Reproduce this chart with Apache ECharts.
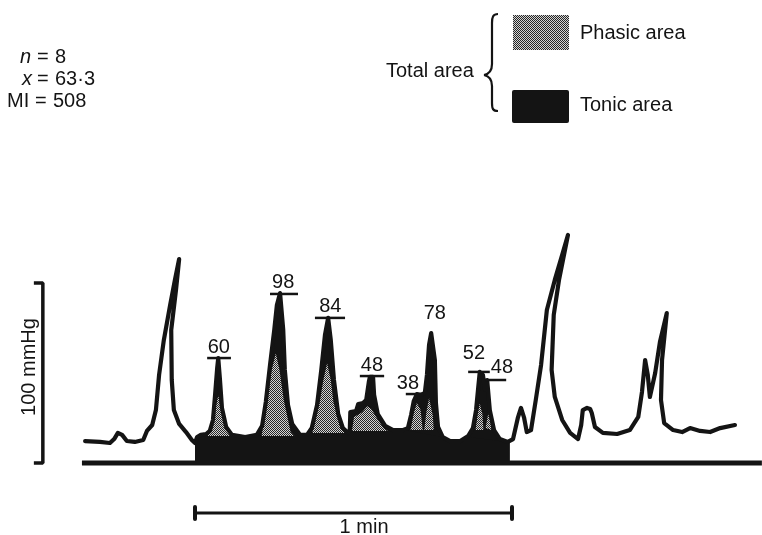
<!DOCTYPE html>
<html><head><meta charset="utf-8">
<script src="https://cdn.jsdelivr.net/npm/echarts@6/dist/echarts.min.js"></script>
<style>html,body{margin:0;padding:0;background:#fff}#c{width:762px;height:535px}</style>
</head><body><div id="c"></div>
<script>
// time in s (0 = start of the analysed 1-min window), pressure in mmHg above baseline
const traceBefore = [[-20.8,12.2],[-18.0,11.7],[-16.1,11.1],[-15.3,13.3],[-14.6,16.7],[-13.8,15.6],[-12.9,12.2],[-11.4,11.7],[-9.8,12.8],[-9.1,17.8],[-8.1,21.1],[-7.4,29.4],[-6.8,48.9],[-5.9,68.3],[-4.7,87.8],[-3.8,101.7],[-3.0,113.3],[-3.6,96.1],[-4.5,73.9],[-4.4,46.1],[-4.0,29.4],[-3.0,21.7],[-1.7,17.2],[-0.6,12.8]];
const traceWindow = [[0,11.1],[0.4,14.4],[1.1,15.6],[2.1,16.1],[2.8,17.8],[3.4,23.9],[3.8,37.8],[4.2,52.8],[4.4,58.3],[4.7,47.2],[5.1,30.6],[5.9,20.0],[7.0,15.6],[9.5,14.4],[11.7,15.6],[12.7,20.6],[13.4,33.9],[14.2,54.4],[15.0,73.9],[15.5,87.8],[16.1,94.4],[16.7,73.9],[17.0,51.7],[17.6,32.2],[18.4,21.7],[19.9,15.6],[21.2,15.6],[22.1,19.4],[23.1,32.2],[23.9,51.7],[24.6,71.1],[25.2,80.6],[25.7,68.3],[26.3,46.1],[27.1,27.2],[28.0,19.4],[29.0,16.7],[29.3,18.3],[29.4,28.3],[30.5,28.9],[30.9,32.8],[31.8,33.3],[32.4,35.0],[32.9,45.0],[33.1,47.8],[33.7,47.8],[33.9,37.8],[34.6,27.2],[36.0,20.6],[37.5,18.3],[39.4,18.3],[40.3,19.4],[40.9,26.7],[41.4,34.4],[42.0,38.3],[42.8,37.8],[43.5,38.9],[43.9,48.9],[44.3,65.6],[44.7,72.2],[45.0,72.2],[45.4,57.2],[45.6,33.3],[46.0,20.0],[46.9,14.4],[48.3,12.2],[50.2,12.2],[51.7,15.0],[52.6,19.4],[53.2,29.4],[53.6,41.7],[53.9,50.6],[54.5,48.9],[54.9,40.6],[55.3,46.1],[55.6,46.1],[55.8,29.4],[56.6,18.3],[57.7,13.3],[59.2,11.7]];
const traceAfter = [[60.2,13.3],[61.1,25.0],[61.7,30.6],[62.3,25.0],[62.8,17.2],[63.6,18.3],[64.5,35.0],[65.5,54.4],[66.6,85.0],[68.1,101.7],[69.5,115.6],[70.6,126.7],[68.9,101.7],[67.9,82.2],[67.5,51.7],[68.1,36.7],[69.5,23.9],[71.0,16.7],[72.5,13.3],[73.1,21.1],[73.4,29.4],[74.2,30.6],[74.8,30.0],[75.1,27.8],[75.7,20.0],[77.2,16.7],[79.9,16.1],[82.3,18.3],[83.9,25.6],[84.6,39.4],[85.2,57.2],[85.7,48.9],[86.1,36.7],[87.1,50.0],[88.0,67.2],[89.3,83.3],[88.4,57.2],[88.2,35.0],[88.8,22.2],[90.5,18.3],[92.2,17.2],[93.7,19.4],[95.6,17.8],[97.5,17.2],[99.4,19.4],[102.2,21.1]];
const tonicTop = [[0,12.8],[0.9,15.0],[2.8,16.1],[7.0,15.0],[9.5,14.4],[11.9,15.6],[19.9,15.0],[21.8,16.7],[29.0,16.7],[37.5,18.3],[39.7,18.3],[46.7,14.4],[49.2,12.2],[51.7,14.4],[57.7,12.2],[59.6,11.1]];
const phasic60 = [[2.4,15.0],[3.1,19.4],[3.7,28.3],[4.4,37.5],[5.0,28.3],[5.8,20.6],[6.9,15.0]];
const phasic98 = [[12.6,15.0],[13.7,35.0],[14.5,51.5],[15.3,61.0],[16.0,51.5],[16.8,35.0],[18.1,17.2],[18.8,15.0]];
const phasic84 = [[22.2,16.7],[23.6,33.9],[24.3,46.1],[25.0,55.5],[25.7,46.1],[26.2,33.9],[27.5,19.4],[28.3,16.7]];
const phasic48a = [[29.7,17.8],[30.1,25.6],[31.6,28.0],[32.6,31.5],[33.4,30.0],[34.4,25.0],[35.7,19.4],[36.5,17.8]];
const phasic38 = [[40.8,18.3],[41.4,27.8],[42.0,33.3],[42.7,29.4],[43.1,18.3]];
const phasic78 = [[43.4,18.3],[43.8,28.3],[44.3,36.0],[45.0,26.7],[45.2,18.3]];
const phasic52 = [[53.1,18.3],[53.5,27.2],[53.9,33.0],[54.4,27.2],[54.6,18.3]];
const phasic48b = [[55.0,19.4],[55.5,27.5],[55.9,22.8],[56.1,18.3]];
const peakBars = [[2.3,6.8,58.3],[14.2,19.5,93.9],[22.7,28.4,80.6],[31.2,35.8,48.3],[39.9,43.3,38.3],[51.7,55.8,50.6],[54.9,58.9,46.1]];
const peakLabels = [[4.5,63.9,'60'],[16.7,100,'98'],[25.6,86.7,'84'],[33.5,54.4,'48'],[40.3,44.4,'38'],[45.4,82.8,'78'],[52.8,61.1,'52'],[58.1,53.3,'48']];
const baseline = [[-21.4,0],[107.3,0]];
const pressureScale = [[-30.5,100],[-28.8,100],[-28.8,0],[-30.5,0]];
const timeScale = [[0,60,-27.8]];
const scaleLabels = [[32.0,-36.1,'1 min'],[-31.4,53.3,'100 mmHg']];
const statNames = ['n','x','MI'];
const statValues = ['8','63·3','508'];
const legendItems = ['Phasic area','Tonic area'];
const legendGroup = 'Total area';

const INK = '#141414';
const FONT = '20px "Liberation Sans", Arial, Helvetica, sans-serif';
function makePattern(){
  const c = document.createElement('canvas'); c.width = 4; c.height = 4;
  const g = c.getContext('2d'); g.fillStyle = '#d4d4d4'; g.fillRect(0,0,4,4);
  g.fillStyle = '#262626';
  for (let y=0;y<4;y++) for (let x=0;x<4;x++) if ((x+y)%2===0) g.fillRect(x,y,1,1);
  return c;
}
const hatch = {image: makePattern(), repeat: 'repeat'};
const phasicAreas = [phasic60, phasic98, phasic84, phasic48a, phasic38, phasic78, phasic52, phasic48b];
const traceAll = traceBefore.concat(traceWindow, traceAfter);

const chart = echarts.init(document.getElementById('c'), null, {renderer:'canvas'});
const statRowsY = [57, 79, 101], statNameX = [20, 22, 7], statEqX = [37, 37, 35], statValX = [55, 55, 53];
const graphics = [];
statNames.forEach((n,i)=>{
  graphics.push({type:'text', x: statNameX[i], y: statRowsY[i], style:{text:n, font:(i<2?'italic ':'')+FONT, fill:INK, verticalAlign:'middle'}});
  graphics.push({type:'text', x: statEqX[i], y: statRowsY[i], style:{text:'=', font:FONT, fill:INK, verticalAlign:'middle'}});
  graphics.push({type:'text', x: statValX[i], y: statRowsY[i], style:{text:statValues[i], font:FONT, fill:INK, verticalAlign:'middle'}});
});
graphics.push({type:'text', x:386, y:71, style:{text:legendGroup, font:FONT, fill:INK, verticalAlign:'middle'}});
const braceStyle = {fill:'none', stroke:INK, lineWidth:2.2};
graphics.push({type:'bezierCurve', shape:{x1:498,y1:14,cpx1:493,cpy1:14,cpx2:492,cpy2:17,x2:492,y2:23}, style:braceStyle});
graphics.push({type:'line', shape:{x1:492,y1:23,x2:492,y2:64}, style:braceStyle});
graphics.push({type:'bezierCurve', shape:{x1:492,y1:64,cpx1:492,cpy1:70,cpx2:489,cpy2:74,x2:484,y2:75}, style:braceStyle});
graphics.push({type:'bezierCurve', shape:{x1:484,y1:75,cpx1:489,cpy1:76,cpx2:492,cpy2:80,x2:492,y2:86}, style:braceStyle});
graphics.push({type:'line', shape:{x1:492,y1:86,x2:492,y2:103}, style:braceStyle});
graphics.push({type:'bezierCurve', shape:{x1:492,y1:103,cpx1:492,cpy1:109,cpx2:493,cpy2:111,x2:498,y2:111}, style:braceStyle});
graphics.push({type:'rect', shape:{x:513,y:15,width:56,height:35}, style:{fill:hatch}});
graphics.push({type:'text', x:580, y:33, style:{text:legendItems[0], font:FONT, fill:INK, verticalAlign:'middle'}});
graphics.push({type:'rect', shape:{x:512,y:90,width:57,height:33,r:2}, style:{fill:INK}});
graphics.push({type:'text', x:580, y:105, style:{text:legendItems[1], font:FONT, fill:INK, verticalAlign:'middle'}});

const option = {
  backgroundColor:'#fff',
  animation:false,
  grid:{left:0,right:0,top:0,bottom:0},
  xAxis:{type:'value', min:-36.91, max:107.32, show:false},
  yAxis:{type:'value', min:-40, max:257.2, show:false},
  graphic: graphics,
  series:[
    {name:'peak interior', type:'line', data:traceWindow, symbol:'none', lineStyle:{width:0}, areaStyle:{color:INK, opacity:1}, z:1, silent:true},
    {name:'Tonic area', type:'line', data:tonicTop, symbol:'none', lineStyle:{width:0}, areaStyle:{color:INK, opacity:1}, z:2, silent:true},
    {name:'Phasic area', type:'custom', data:phasicAreas.map(a=>a[0]), z:3, silent:true,
      renderItem:(params, api)=>({type:'polygon', shape:{points:phasicAreas[params.dataIndex].map(p=>api.coord(p))}, style:{fill:hatch}})},
    {name:'trace', type:'line', data:traceAll, symbol:'none', lineStyle:{color:INK, width:4.2, join:'round', cap:'round'}, z:4, silent:true},
    {name:'baseline', type:'line', data:baseline, symbol:'none', lineStyle:{color:INK, width:5}, z:4, silent:true},
    {name:'pressure scale', type:'line', data:pressureScale, symbol:'none', lineStyle:{color:INK, width:3.5}, z:4, silent:true},
    {name:'time scale', type:'custom', data:timeScale, z:4, silent:true,
      renderItem:(params, api)=>{
        const a = api.coord([api.value(0), api.value(2)]), b = api.coord([api.value(1), api.value(2)]);
        return {type:'group', children:[
          {type:'line', shape:{x1:a[0],y1:a[1],x2:b[0],y2:b[1]}, style:{stroke:INK, lineWidth:3}},
          {type:'line', shape:{x1:a[0],y1:a[1]-6,x2:a[0],y2:a[1]+6}, style:{stroke:INK,lineWidth:4,lineCap:'round'}},
          {type:'line', shape:{x1:b[0],y1:b[1]-6,x2:b[0],y2:b[1]+6}, style:{stroke:INK,lineWidth:4,lineCap:'round'}}
        ]};
      }},
    {name:'peak bars', type:'custom', data:peakBars, z:5, silent:true,
      renderItem:(params, api)=>{
        const a = api.coord([api.value(0), api.value(2)]), b = api.coord([api.value(1), api.value(2)]);
        return {type:'line', shape:{x1:a[0],y1:a[1],x2:b[0],y2:b[1]}, style:{stroke:INK, lineWidth:2.5}};
      }},
    {name:'peak labels', type:'custom', data:peakLabels.map(d=>[d[0],d[1]]), z:5, silent:true,
      renderItem:(params, api)=>{
        const d = peakLabels[params.dataIndex]; const p = api.coord([d[0], d[1]]);
        return {type:'text', x:p[0], y:p[1], style:{text:d[2], font:FONT, fill:INK, align:'center', verticalAlign:'middle'}};
      }},
    {name:'scale labels', type:'custom', data:scaleLabels.map(d=>[d[0],d[1]]), z:5, silent:true,
      renderItem:(params, api)=>{
        const d = scaleLabels[params.dataIndex]; const p = api.coord([d[0], d[1]]);
        return {type:'text', x:p[0], y:p[1], rotation: params.dataIndex===1 ? Math.PI/2 : 0, style:{text:d[2], font:FONT, fill:INK, align:'center', verticalAlign:'middle'}};
      }}
  ]
};
chart.setOption(option);
</script></body></html>
